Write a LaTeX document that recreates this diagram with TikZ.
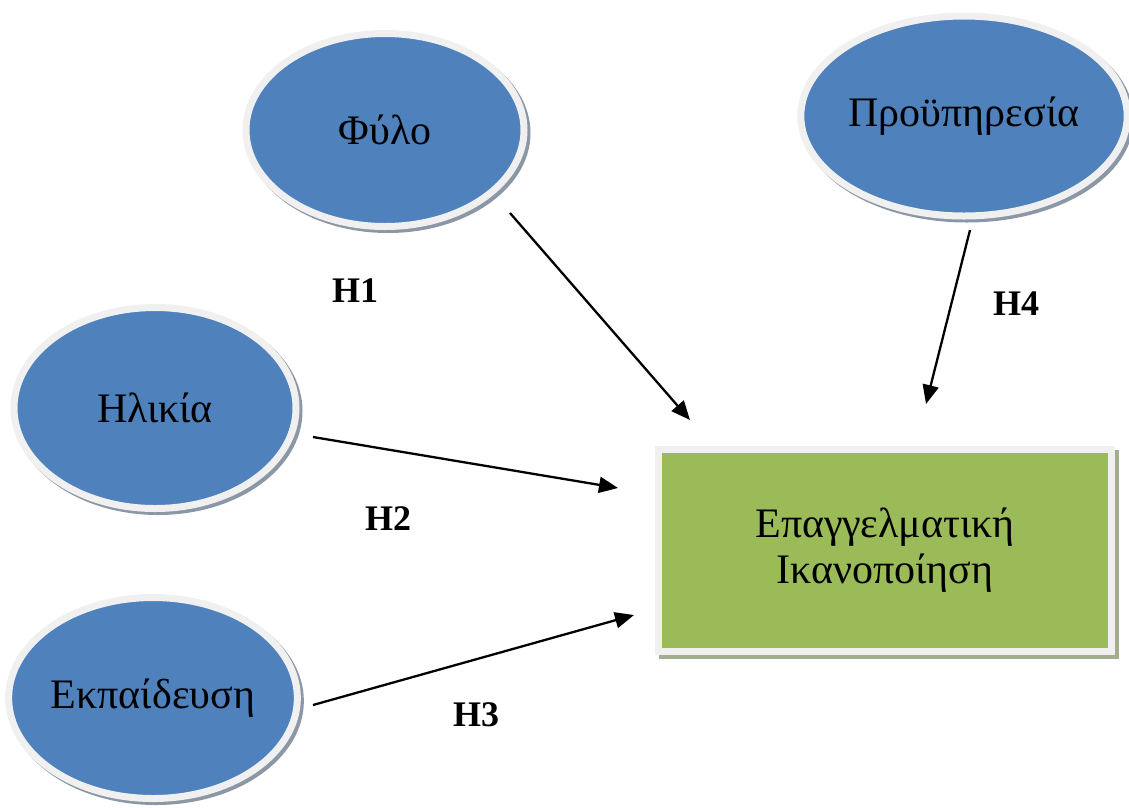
\documentclass[tikz,border=0pt]{standalone}
\usepackage{fontspec}
\setmainfont{Liberation Serif}
\usepackage{tikz}
\usetikzlibrary{shapes.geometric, arrows.meta, shadows}
\definecolor{varblue}{HTML}{4F81BD}
\definecolor{vargreen}{HTML}{9BBB59}
\definecolor{rim}{HTML}{F0F0F0}
\definecolor{blueshade}{HTML}{8C97A6}
\definecolor{greenshade}{HTML}{A4AC90}
\tikzstyle{arrow} = [line width=2.3pt, -{Triangle[length=19pt,width=16pt]}]
\tikzstyle{factor} = [ellipse, fill=varblue, draw=rim, line width=7pt, inner sep=0pt, font=\fontsize{42}{48}\selectfont, drop shadow={shadow xshift=3pt, shadow yshift=-3pt, fill=blueshade, draw=blueshade, line width=7pt, opacity=1}]
\tikzstyle{outcome} = [rectangle, fill=vargreen, draw=rim, line width=7pt, align=center, font=\fontsize{42}{46}\selectfont, drop shadow={shadow xshift=4pt, shadow yshift=-4pt, fill=greenshade, draw=greenshade, line width=7pt, opacity=1}]
\tikzstyle{hyp} = [font=\fontsize{36}{42}\selectfont\bfseries]

\begin{document}
\begin{tikzpicture}[x=1pt, y=-1pt]
                \useasboundingbox (0,0) rectangle (1129,807);
                \node (fylo) [factor, minimum width=278pt, minimum height=193pt] at (385,130) {Φύλο};
                \node (proyp) [factor, minimum width=326pt, minimum height=200pt] at (964,116) {Προϋπηρεσία};
                \node (ilikia) [factor, minimum width=282pt, minimum height=201pt] at (155,408) {Ηλικία};
                \node (ekp) [factor, minimum width=278pt, minimum height=201pt] at (153,698) {Εκπαίδευση};
                \node (ikan) [outcome, minimum width=453pt, minimum height=202pt] at (885,550) {Επαγγελματική\\Ικανοποίηση};

                \node (h1) [hyp] at (355,291) {H1};
                \node (h2) [hyp] at (388,519) {H2};
                \node (h3) [hyp] at (476,715) {H3};
                \node (h4) [hyp] at (1016,304) {H4};

                \coordinate (h1s) at (510,213);
                \coordinate (h1e) at (690,420);
                \coordinate (h2s) at (313,437);
                \coordinate (h2e) at (618,488);
                \coordinate (h3s) at (313,705);
                \coordinate (h3e) at (634,615);
                \coordinate (h4s) at (970,230);
                \coordinate (h4e) at (926,404);

                \draw [arrow] (h1s) -- (h1e);
                \draw [arrow] (h2s) -- (h2e);
                \draw [arrow] (h3s) -- (h3e);
                \draw [arrow] (h4s) -- (h4e);
\end{tikzpicture}
\end{document}
